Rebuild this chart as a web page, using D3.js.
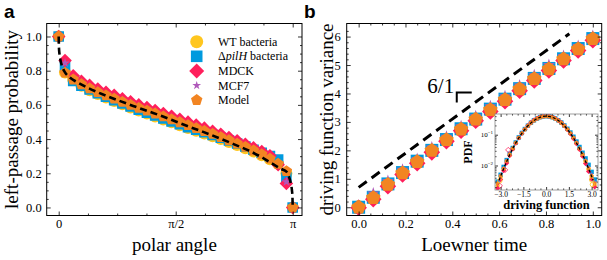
<!DOCTYPE html>
<html><head><meta charset="utf-8">
<script src="https://cdn.jsdelivr.net/npm/d3@7"></script>
<style>body{margin:0;background:#fff}svg{display:block}text{font-family:"Liberation Serif",serif;fill:#000}</style>
</head><body><svg id="c" width="607" height="260"></svg>
<script>
// ---------- DATA ----------
const seriesNames = ["WT bacteria", "ΔpilH bacteria", "MDCK", "MCF7", "Model"];
const seriesColors = ["#FFC61E", "#009ADE", "#FF1F5B", "#AF58BA", "#F28522"];

// Panel a: left-passage probability vs polar angle
const angle = [0, 0.085, 0.195, 0.305, 0.415, 0.525, 0.635, 0.745, 0.855, 0.965, 1.075, 1.185, 1.295, 1.405, 1.515, 1.626, 1.736, 1.846, 1.956, 2.066, 2.176, 2.286, 2.396, 2.506, 2.616, 2.726, 2.836, 2.946, 3.057, 3.1416];
const lpWT    = [1.0, 0.79, 0.745, 0.712, 0.686, 0.663, 0.643, 0.623, 0.603, 0.585, 0.567, 0.55, 0.532, 0.515, 0.498, 0.481, 0.465, 0.449, 0.433, 0.417, 0.4, 0.383, 0.365, 0.347, 0.328, 0.306, 0.282, 0.255, 0.2, 0.0];
const lpPilH  = [1.0, 0.83, 0.74, 0.712, 0.69, 0.668, 0.648, 0.628, 0.609, 0.591, 0.572, 0.555, 0.538, 0.52, 0.503, 0.487, 0.47, 0.455, 0.44, 0.424, 0.408, 0.392, 0.374, 0.357, 0.338, 0.32, 0.3, 0.28, 0.175, 0.0];
const lpMDCK  = [1.0, 0.86, 0.77, 0.738, 0.714, 0.693, 0.674, 0.656, 0.636, 0.618, 0.6, 0.584, 0.567, 0.55, 0.533, 0.516, 0.499, 0.482, 0.464, 0.446, 0.428, 0.409, 0.39, 0.37, 0.349, 0.327, 0.302, 0.25, 0.14, 0.0];
const lpMCF7  = [1.0, 0.845, 0.755, 0.728, 0.705, 0.683, 0.664, 0.645, 0.626, 0.609, 0.591, 0.575, 0.558, 0.541, 0.524, 0.507, 0.49, 0.473, 0.456, 0.438, 0.42, 0.401, 0.382, 0.362, 0.341, 0.318, 0.293, 0.248, 0.15, 0.0];
const lpModel = [1.0, 0.788, 0.748, 0.72, 0.696, 0.674, 0.655, 0.636, 0.617, 0.6, 0.582, 0.566, 0.549, 0.532, 0.515, 0.498, 0.481, 0.464, 0.447, 0.43, 0.411, 0.393, 0.373, 0.354, 0.333, 0.31, 0.285, 0.255, 0.212, 0.0];
// theory (dashed)
const thAngle = [0, 0.003, 0.01, 0.025, 0.05, 0.085, 0.15, 0.25, 0.4, 0.6, 0.8, 1.0, 1.2, 1.4, 1.5708, 1.74, 1.94, 2.14, 2.34, 2.54, 2.74, 2.89, 2.99, 3.057, 3.0916, 3.1166, 3.1316, 3.1386, 3.1416];
const thProb  = [1.0, 0.94, 0.90, 0.86, 0.82, 0.79, 0.76, 0.732, 0.698, 0.66, 0.626, 0.594, 0.563, 0.532, 0.503, 0.474, 0.442, 0.408, 0.372, 0.335, 0.29, 0.25, 0.225, 0.21, 0.18, 0.14, 0.10, 0.06, 0.0];
const xTickLabelsA = ["0", "π/2", "π"];

// Panel b: driving function variance vs Loewner time
const ltime = [0, 0.0625, 0.125, 0.1875, 0.25, 0.3125, 0.375, 0.4375, 0.5, 0.5625, 0.625, 0.6875, 0.75, 0.8125, 0.875, 0.9375, 1.0];
const varWT    = [0, 0.32, 0.79, 1.19, 1.58, 1.97, 2.35, 2.72, 3.07, 3.4, 3.76, 4.13, 4.49, 4.84, 5.19, 5.54, 5.9];
const varPilH  = [0, 0.35, 0.82, 1.22, 1.62, 2.0, 2.38, 2.76, 3.1, 3.45, 3.8, 4.17, 4.53, 4.88, 5.22, 5.58, 5.93];
const varMDCK  = [-0.02, 0.28, 0.74, 1.15, 1.55, 1.93, 2.32, 2.69, 3.04, 3.37, 3.73, 4.1, 4.46, 4.81, 5.16, 5.51, 5.87];
const varMCF7  = [0.05, 0.48, 0.92, 1.32, 1.7, 2.1, 2.48, 2.85, 3.2, 3.55, 3.9, 4.28, 4.64, 5.0, 5.32, 5.67, 6.02];
const varModel = [0, 0.33, 0.8, 1.2, 1.6, 1.99, 2.37, 2.74, 3.09, 3.42, 3.78, 4.15, 4.51, 4.86, 5.21, 5.56, 5.92];
const slopeLineT = [0, 0.9];
const slopeLineV = [0.7, 6.1];
const slopeLabel = "6/1";

// Inset: PDF of driving function
const dfX = [-3.2,-3.0,-2.8,-2.6,-2.4,-2.2,-2.0,-1.8,-1.6,-1.4,-1.2,-1.0,-0.8,-0.6,-0.4,-0.2,0,0.2,0.4,0.6,0.8,1.0,1.2,1.4,1.6,1.8,2.0,2.2,2.4,2.6,2.8,3.0,3.2];
const pdfWT    = [0.0022,0.0042,0.0076,0.0132,0.0218,0.0348,0.0535,0.079,0.111,0.149,0.193,0.241,0.289,0.331,0.366,0.389,0.397,0.389,0.366,0.331,0.289,0.241,0.193,0.149,0.111,0.079,0.0535,0.0348,0.0218,0.0132,0.0076,0.0042,0.0022];
const pdfPilH  = [0.003,0.005,0.009,0.015,0.024,0.037,0.056,0.082,0.114,0.153,0.197,0.246,0.293,0.336,0.372,0.395,0.402,0.396,0.373,0.338,0.296,0.25,0.2,0.156,0.118,0.086,0.06,0.04,0.026,0.017,0.0105,0.0062,0.0035];
const pdfMDCK  = [0.0018,0.0035,0.0068,0.012,0.021,0.034,0.053,0.078,0.11,0.15,0.196,0.248,0.298,0.34,0.375,0.40,0.41,0.40,0.375,0.338,0.292,0.245,0.193,0.146,0.107,0.075,0.051,0.033,0.02,0.0115,0.0064,0.0036,0.002];
const pdfMCF7  = [0.0028,0.005,0.0085,0.0145,0.0235,0.0365,0.0555,0.081,0.113,0.152,0.196,0.244,0.292,0.334,0.37,0.393,0.40,0.392,0.369,0.334,0.292,0.245,0.197,0.152,0.114,0.082,0.057,0.038,0.024,0.015,0.009,0.0052,0.0029];
const pdfModel = [0.0026,0.0046,0.008,0.014,0.023,0.036,0.055,0.08,0.112,0.15,0.195,0.243,0.29,0.332,0.367,0.39,0.398,0.39,0.367,0.332,0.29,0.243,0.195,0.15,0.112,0.08,0.055,0.036,0.023,0.014,0.008,0.0046,0.0026];
const gaussX = [-3.1,-2.8,-2.5,-2.2,-1.9,-1.6,-1.3,-1.0,-0.7,-0.4,-0.2,0,0.2,0.4,0.7,1.0,1.3,1.6,1.9,2.2,2.5,2.8,3.1];
const gaussY = [0.0033,0.0079,0.0175,0.0355,0.0656,0.111,0.171,0.242,0.312,0.368,0.391,0.399,0.391,0.368,0.312,0.242,0.171,0.111,0.0656,0.0355,0.0175,0.0079,0.0033];
const openPinkX = [-3.05, -2.7, -2.5];
const openPinkY = [0.0022, 0.0072, 0.032];
const openYellowX = [-3.05, 3.0, 3.05];
const openYellowY = [0.0032, 0.0034, 0.0024];
const insetXTicks = [-3.0, -1.5, 0.0, 1.5, 3.0];

// ---------- HELPERS ----------
const svg = d3.select("#c");

function markerPath(type, r) {
  if (type === "circle") return d3.symbol(d3.symbolCircle, Math.PI * r * r)();
  if (type === "square") return d3.symbol(d3.symbolSquare, 4 * r * r)();
  if (type === "diamond") return `M0,${-r}L${r},0L0,${r}L${-r},0Z`;
  if (type === "star") return d3.symbol(d3.symbolStar, r * r / 0.8908130915292852)();
  if (type === "pentagon") {
    const p = d3.range(5).map(k => { const a = -Math.PI / 2 + k * 2 * Math.PI / 5; return [r * Math.cos(a), r * Math.sin(a)]; });
    return "M" + p.map(d => d.join(",")).join("L") + "Z";
  }
}
const types = ["circle", "square", "diamond", "star", "pentagon"];

function drawAxes(g, x, y, o) {
  const [x0, x1] = x.range(), [y0, y1] = y.range();
  const fs = o.fs || 12.5;
  const add = (axis, tr) => {
    const a = g.append("g").attr("transform", tr).call(axis);
    a.select(".domain").remove();
    a.selectAll("line").attr("stroke", o.tickColor || "#000").attr("stroke-width", 0.8);
    a.selectAll("text").style("font-family", "Liberation Serif, serif").style("font-size", fs + "px").attr("fill", "#000");
    return a;
  };
  add(d3.axisBottom(x).tickValues(o.xMajor).tickFormat(o.xFmt).tickSizeInner(-o.maj).tickSizeOuter(0).tickPadding(o.padX), `translate(0,${y0})`);
  add(d3.axisTop(x).tickValues(o.xMajor).tickFormat("").tickSizeInner(-o.maj).tickSizeOuter(0), `translate(0,${y1})`);
  add(d3.axisLeft(y).tickValues(o.yMajor).tickFormat(o.yFmt).tickSizeInner(-o.maj).tickSizeOuter(0).tickPadding(o.padY), `translate(${x0},0)`);
  add(d3.axisRight(y).tickValues(o.yMajor).tickFormat("").tickSizeInner(-o.maj).tickSizeOuter(0), `translate(${x1},0)`);
  add(d3.axisBottom(x).tickValues(o.xMinor).tickFormat("").tickSizeInner(-o.min).tickSizeOuter(0), `translate(0,${y0})`);
  add(d3.axisTop(x).tickValues(o.xMinor).tickFormat("").tickSizeInner(-o.min).tickSizeOuter(0), `translate(0,${y1})`);
  add(d3.axisLeft(y).tickValues(o.yMinor).tickFormat("").tickSizeInner(-o.min).tickSizeOuter(0), `translate(${x0},0)`);
  add(d3.axisRight(y).tickValues(o.yMinor).tickFormat("").tickSizeInner(-o.min).tickSizeOuter(0), `translate(${x1},0)`);
  g.append("rect").attr("x", x0).attr("y", y1).attr("width", x1 - x0).attr("height", y0 - y1)
    .attr("fill", "none").attr("stroke", o.frameColor || "#000").attr("stroke-width", o.frameW || 1);
}

function scatter(g, x, y, xs, ys, type, color, r) {
  g.append("g").selectAll("path").data(xs.map((d, i) => [d, ys[i]])).join("path")
    .attr("d", markerPath(type, r))
    .attr("transform", d => `translate(${x(d[0])},${y(d[1])})`)
    .attr("fill", color);
}

// ---------- PANEL A ----------
const A = { l: 46.7, r: 302, t: 23.5, b: 215.5 };
const xa = d3.scaleLinear().domain([-0.161, Math.PI + 0.125]).range([A.l, A.r]);
const ya = d3.scaleLinear().domain([-0.047, 1.076]).range([A.b, A.t]);
const ga = svg.append("g");
svg.append("clipPath").attr("id", "clipA").append("rect").attr("x", A.l).attr("y", A.t).attr("width", A.r - A.l).attr("height", A.b - A.t);

const aSeries = [lpWT, lpPilH, lpMDCK, lpMCF7, lpModel];
const aSizes = [6, 5.3, 6.8, 5, 6];
const gaData = ga.append("g").attr("clip-path", "url(#clipA)");
aSeries.forEach((s, i) => scatter(gaData, xa, ya, angle, s, types[i], seriesColors[i], aSizes[i]));
gaData.append("path").datum(thAngle.map((d, i) => [d, thProb[i]]))
  .attr("d", d3.line().x(d => xa(d[0])).y(d => ya(d[1])).curve(d3.curveMonotoneX))
  .attr("fill", "none").attr("stroke", "#000").attr("stroke-width", 2.6).attr("stroke-dasharray", "7,4");

drawAxes(ga, xa, ya, {
  xMajor: [0, Math.PI / 2, Math.PI], xFmt: (d, i) => xTickLabelsA[i],
  xMinor: d3.range(1, 8).filter(k => k !== 4).map(k => k * Math.PI / 8),
  yMajor: [0, 0.2, 0.4, 0.6, 0.8, 1.0], yFmt: d3.format(".1f"),
  yMinor: d3.range(0, 21).filter(k => k % 4 !== 0).map(k => k * 0.05),
  maj: 4, min: 2, padX: 4, padY: 5, fs: 12.5
});

const legA = ga.append("g");
seriesNames.forEach((n, i) => {
  const yy = 41.7 + i * 14.6;
  legA.append("path").attr("d", markerPath(types[i], [6.5, 5.8, 7.5, 4.6, 6][i]))
    .attr("transform", `translate(196.7,${yy})`).attr("fill", seriesColors[i]);
  const t = legA.append("text").attr("x", 218).attr("y", yy + 4).style("font-size", "12px");
  if (i === 1) {
    t.append("tspan").text("Δ");
    t.append("tspan").style("font-style", "italic").text("pilH");
    t.append("tspan").text(" bacteria");
  } else t.text(n);
});

ga.append("text").attr("x", (A.l + A.r) / 2).attr("y", 250.5).attr("text-anchor", "middle").style("font-size", "19px").text("polar angle");
ga.append("text").attr("transform", `translate(18,${(A.t + A.b) / 2}) rotate(-90)`).attr("text-anchor", "middle").style("font-size", "19px").text("left-passage probability");
svg.append("text").attr("x", 4).attr("y", 18).style("font-family", "Liberation Sans, Arial, sans-serif").style("font-weight", "bold").style("font-size", "19px").text("a");

// ---------- PANEL B ----------
const B = { l: 346.7, r: 601.7, t: 23.5, b: 215.5 };
const xb = d3.scaleLinear().domain([-0.051, 1.038]).range([B.l, B.r]);
const yb = d3.scaleLinear().domain([-0.29, 6.46]).range([B.b, B.t]);
const gb = svg.append("g");
const bSeries = [varWT, varPilH, varMDCK, varMCF7, varModel];
const bSizes = [7, 6.5, 8.3, 6.5, 7.6];
bSeries.forEach((s, i) => scatter(gb, xb, yb, ltime, s, types[i], seriesColors[i], bSizes[i]));
gb.append("path").datum(slopeLineT.map((d, i) => [d, slopeLineV[i]]))
  .attr("d", d3.line().x(d => xb(d[0])).y(d => yb(d[1])))
  .attr("fill", "none").attr("stroke", "#000").attr("stroke-width", 3).attr("stroke-dasharray", "10,6");
gb.append("path").datum([[0.419, 3.68], [0.419, 4.03], [0.483, 4.03]])
  .attr("d", d3.line().x(d => xb(d[0])).y(d => yb(d[1])))
  .attr("fill", "none").attr("stroke", "#000").attr("stroke-width", 2);
gb.append("text").attr("x", xb(0.408)).attr("y", yb(4.03)).attr("text-anchor", "end").style("font-size", "21px").text(slopeLabel);

drawAxes(gb, xb, yb, {
  xMajor: [0, 0.2, 0.4, 0.6, 0.8, 1.0], xFmt: d3.format(".1f"),
  xMinor: d3.range(0, 21).filter(k => k % 4 !== 0).map(k => k * 0.05),
  yMajor: [0, 1, 2, 3, 4, 5, 6], yFmt: d3.format("d"),
  yMinor: d3.range(0, 32).filter(k => k % 5 !== 0).map(k => k * 0.2),
  maj: 4, min: 2, padX: 4, padY: 6, fs: 12.5
});
gb.append("text").attr("x", (B.l + B.r) / 2).attr("y", 250.5).attr("text-anchor", "middle").style("font-size", "19px").text("Loewner time");
gb.append("text").attr("transform", `translate(333,${(B.t + B.b) / 2}) rotate(-90)`).attr("text-anchor", "middle").style("font-size", "19px").text("driving function variance");
svg.append("text").attr("x", 304).attr("y", 18).style("font-family", "Liberation Sans, Arial, sans-serif").style("font-weight", "bold").style("font-size", "19px").text("b");

// ---------- INSET ----------
const I = { l: 495, r: 598, t: 114, b: 190 };
const gi = svg.append("g");
gi.append("rect").attr("x", I.l).attr("y", I.t).attr("width", I.r - I.l).attr("height", I.b - I.t).attr("fill", "#fff");
const xi = d3.scaleLinear().domain([-3.37, 3.42]).range([I.l, I.r]);
const yi = d3.scaleLog().domain([0.0016, 0.47]).range([I.b, I.t]);
svg.append("clipPath").attr("id", "clipI").append("rect").attr("x", I.l).attr("y", I.t).attr("width", I.r - I.l).attr("height", I.b - I.t);
const giData = gi.append("g").attr("clip-path", "url(#clipI)");
const iSeries = [pdfWT, pdfPilH, pdfMDCK, pdfMCF7, pdfModel];
const iSizes = [2.2, 2.2, 2.6, 2.2, 2.3];
iSeries.forEach((s, i) => scatter(giData, xi, yi, dfX, s, types[i], seriesColors[i], iSizes[i]));
giData.append("g").selectAll("path").data(openPinkX.map((d, i) => [d, openPinkY[i]])).join("path")
  .attr("d", markerPath("diamond", 2.6)).attr("transform", d => `translate(${xi(d[0])},${yi(d[1])})`)
  .attr("fill", "none").attr("stroke", seriesColors[2]).attr("stroke-width", 0.8);
giData.append("g").selectAll("path").data(openYellowX.map((d, i) => [d, openYellowY[i]])).join("path")
  .attr("d", markerPath("circle", 2.2)).attr("transform", d => `translate(${xi(d[0])},${yi(d[1])})`)
  .attr("fill", "none").attr("stroke", seriesColors[0]).attr("stroke-width", 0.8);
giData.append("path").datum(gaussX.map((d, i) => [d, gaussY[i]]))
  .attr("d", d3.line().x(d => xi(d[0])).y(d => yi(d[1])).curve(d3.curveMonotoneX))
  .attr("fill", "none").attr("stroke", "#000").attr("stroke-width", 1.3).attr("stroke-dasharray", "3,2");

const logMinor = [];
[0.001, 0.01, 0.1].forEach(dd => d3.range(2, 10).forEach(k => { const v = k * dd; if (v > 0.0016 && v < 0.47) logMinor.push(v); }));
drawAxes(gi, xi, yi, {
  xMajor: insetXTicks, xFmt: d => d3.format(".1f")(d).replace("-", "−"),
  xMinor: [-2.625, -2.25, -1.875, -1.125, -0.75, -0.375, 0.375, 0.75, 1.125, 1.875, 2.25, 2.625],
  yMajor: [0.01, 0.1], yFmt: () => "",
  yMinor: logMinor,
  maj: 3, min: 1.5, padX: 1.5, padY: 3, fs: 7.5, frameColor: "#888", frameW: 0.8
});
[[0.1, "−1"], [0.01, "−2"]].forEach(([v, e]) => {
  const t = gi.append("text").attr("x", I.l - 2).attr("y", yi(v) + 2.5).attr("text-anchor", "end").style("font-size", "7px");
  t.append("tspan").text("10");
  t.append("tspan").attr("dy", -3).style("font-size", "5px").text(e);
});
gi.append("text").attr("x", (I.l + I.r) / 2).attr("y", 208.5).attr("text-anchor", "middle").style("font-size", "12.5px").style("font-weight", "bold").text("driving function");
gi.append("text").attr("transform", `translate(472,${(I.t + I.b) / 2}) rotate(-90)`).attr("text-anchor", "middle").style("font-size", "12px").style("font-weight", "bold").text("PDF");
</script></body></html>
